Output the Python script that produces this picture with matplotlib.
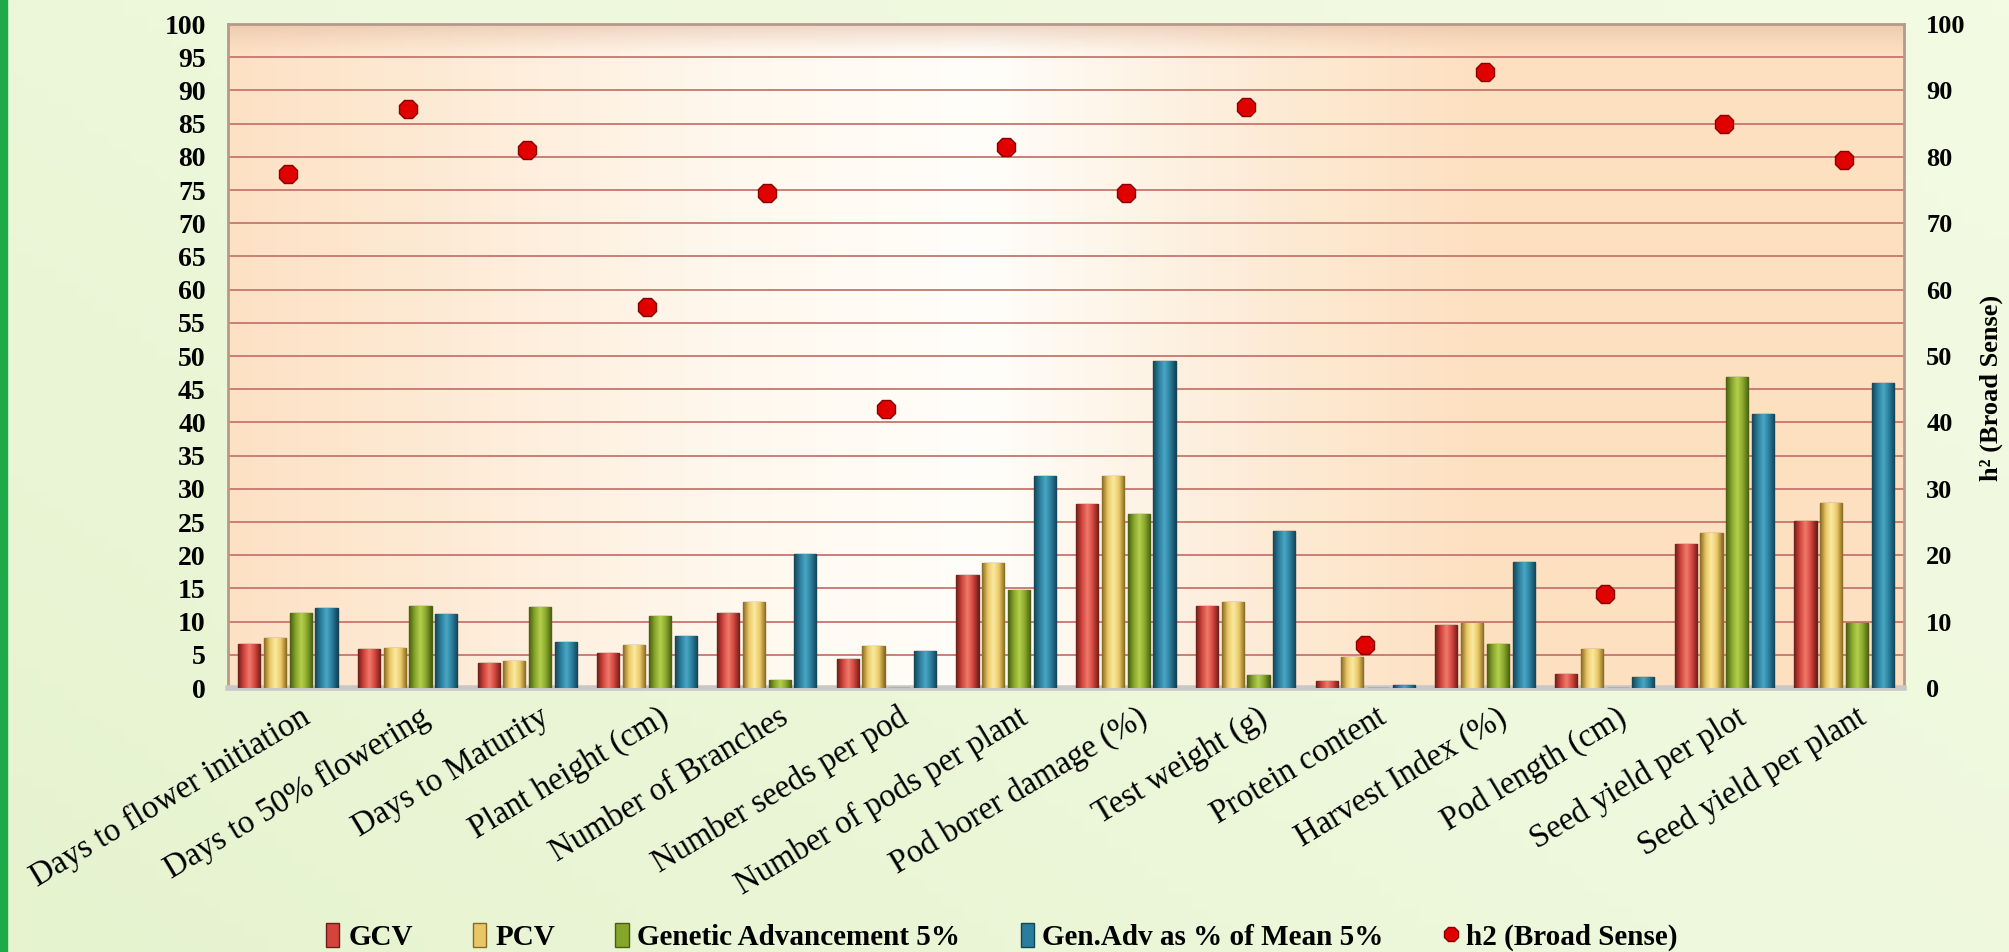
import numpy as np
import matplotlib
matplotlib.use("Agg")
import matplotlib.pyplot as plt
from matplotlib.colors import LinearSegmentedColormap
from matplotlib.patches import Rectangle
from matplotlib.transforms import ScaledTranslation

categories = ["Days to flower initiation", "Days to 50% flowering", "Days to Maturity",
              "Plant height (cm)", "Number of Branches", "Number seeds per pod",
              "Number of pods per plant", "Pod borer damage (%)", "Test weight (g)",
              "Protein content", "Harvest Index (%)", "Pod length (cm)",
              "Seed yield per plot", "Seed yield per plant"]
gcv = [6.7, 5.8, 3.7, 5.2, 11.3, 4.3, 17.0, 27.7, 12.4, 1.1, 9.5, 2.1, 21.7, 25.2]
pcv = [7.5, 6.0, 4.0, 6.5, 13.0, 6.4, 18.9, 31.9, 13.0, 4.6, 9.8, 5.8, 23.3, 27.9]
ga = [11.3, 12.4, 12.2, 10.8, 1.2, 0.0, 14.8, 26.2, 1.9, 0.0, 6.6, 0.0, 46.9, 9.8]
gam = [12.1, 11.1, 6.9, 7.9, 20.2, 5.5, 31.9, 49.2, 23.7, 0.4, 19.0, 1.6, 41.3, 46.0]
h2 = [77.4, 87.2, 81.0, 57.4, 74.5, 42.0, 81.5, 74.5, 87.5, 6.5, 92.8, 14.1, 85.0, 79.5]
series_names = ["GCV", "PCV", "Genetic Advancement 5%", "Gen.Adv as % of Mean 5%"]
h2_name = "h2 (Broad Sense)"
left_ticks = list(range(0, 101, 5))
right_ticks = list(range(0, 101, 10))

plt.rcParams['font.family'] = ['Liberation Serif', 'DejaVu Serif']

W, H = 2009, 952
fig = plt.figure(figsize=(W / 100, H / 100), dpi=100)
fig.patch.set_facecolor('#eaf5d4')

# figure background gradient (light green)
bg = fig.add_axes([0, 0, 1, 1], zorder=-10)
gx = np.linspace(0, 1, 256)
gy = np.linspace(0, 1, 64)
GX, GY = np.meshgrid(gx, gy)
bgcm = LinearSegmentedColormap.from_list('bg', ['#e6f3cf', '#eef8dc', '#f3fbe3'])
bg.imshow(0.6 * GX + 0.4 * GY, cmap=bgcm, aspect='auto', extent=[0, 1, 0, 1], origin='lower')
bg.axis('off')
fig.add_artist(Rectangle((0, 0), 0.0035, 1, transform=fig.transFigure, color='#1faa4a', zorder=5))

L, R, B, T = 228 / W, 1904 / W, 1 - 688 / H, 1 - 24 / H
ax = fig.add_axes([L, B, R - L, T - B])
n = len(categories)
x = np.arange(n)
ax.set_xlim(-0.5, n - 0.5)
ax.set_ylim(0, 100)

# plot-area gradient
pcm = LinearSegmentedColormap.from_list('pa', [(0, '#fde1c4'), (0.3, '#fff8ee'), (0.45, '#fffefa'),
                                               (0.62, '#fdebd6'), (0.75, '#fde0c0'), (1, '#fde0c0')])
ax.imshow(np.tile(np.linspace(0, 1, 512), (8, 1)), cmap=pcm, aspect='auto',
          extent=[0, 1, 0, 1], transform=ax.transAxes, zorder=0, origin='lower')
tcm = LinearSegmentedColormap.from_list('tb', [(0, (0.93, 0.78, 0.68, 0.0)), (1, (0.88, 0.72, 0.62, 0.55))])
ax.imshow(np.linspace(0, 1, 64).reshape(-1, 1), cmap=tcm, aspect='auto',
          extent=[0, 1, 0.955, 1], transform=ax.transAxes, zorder=0.5, origin='lower')

ax.set_yticks(left_ticks)
ax.yaxis.grid(True, color='#c7766e', lw=1.3, zorder=1)
ax.set_axisbelow(True)
ax.tick_params(axis='y', length=0, pad=16, labelsize=20)
for lab in ax.get_yticklabels():
    lab.set_fontweight('bold')

colors = ['#d2443c', '#e9c766', '#86a62a', '#2a7d9c']
darks = ['#6e1e1a', '#8a6a22', '#4a5e12', '#154456']
lights = ['#f07a6c', '#fbeaa0', '#b6d04e', '#4aa6c6']
slot = 0.215
bw = 0.185
for i, (vals, c, d, lt, nm) in enumerate(zip([gcv, pcv, ga, gam], colors, darks, lights, series_names)):
    bars = ax.bar(x + (i - 1.5) * slot, vals, width=bw, color=c, edgecolor=d, linewidth=1.0,
                  zorder=3, label=nm)
    cm = LinearSegmentedColormap.from_list('b%d' % i, [d, c, lt, c, d])
    grad = np.tile(np.linspace(0, 1, 64), (2, 1))
    for rect in bars:
        h = rect.get_height()
        if h <= 0:
            continue
        x0 = rect.get_x()
        im = ax.imshow(grad, cmap=cm, aspect='auto', extent=[x0, x0 + rect.get_width(), 0, h],
                       zorder=3.5, origin='lower')
        im.set_clip_path(rect)

ax.set_xticks(x)
ax.set_xticklabels(categories, rotation=31, ha='right', va='top', rotation_mode='anchor',
                   fontsize=23.5)
ax.tick_params(axis='x', length=0, pad=10)
for lab in ax.get_xticklabels():
    lab.set_transform(lab.get_transform() + ScaledTranslation(8 / 72, 0, fig.dpi_scale_trans))

for s in ['left', 'top', 'right']:
    ax.spines[s].set_color('#b59a8a')
    ax.spines[s].set_linewidth(2)
ax.spines['bottom'].set_color('#c8c8c8')
ax.spines['bottom'].set_linewidth(4)

ax2 = ax.twinx()
ax2.set_ylim(0, 100)
ax2.set_yticks(right_ticks)
ax2.tick_params(axis='y', length=0, pad=16, labelsize=19)
for lab in ax2.get_yticklabels():
    lab.set_fontweight('bold')
for s in ax2.spines.values():
    s.set_visible(False)
ax2.plot(x, h2, linestyle='none', marker='8', markersize=14, color='#e00000',
         markeredgecolor='#8a0000', markeredgewidth=1, zorder=5, label=h2_name)
fig.text(1991 / W, 1 - 388 / H, 'h² (Broad Sense)', rotation=90, ha='center', va='center',
         fontsize=19, fontweight='bold')

h1, l1 = ax.get_legend_handles_labels()
hh, lh = ax2.get_legend_handles_labels()
leg = fig.legend(h1 + hh, l1 + lh, loc='center', bbox_to_anchor=(1002 / W, 1 - 937 / H), ncol=5,
                 frameon=False, prop={'weight': 'bold', 'size': 21}, handlelength=0.45,
                 handleheight=0.9, handletextpad=0.3, columnspacing=2.07, markerscale=0.8)

fig.savefig('out.png', dpi=100, facecolor=fig.get_facecolor())
